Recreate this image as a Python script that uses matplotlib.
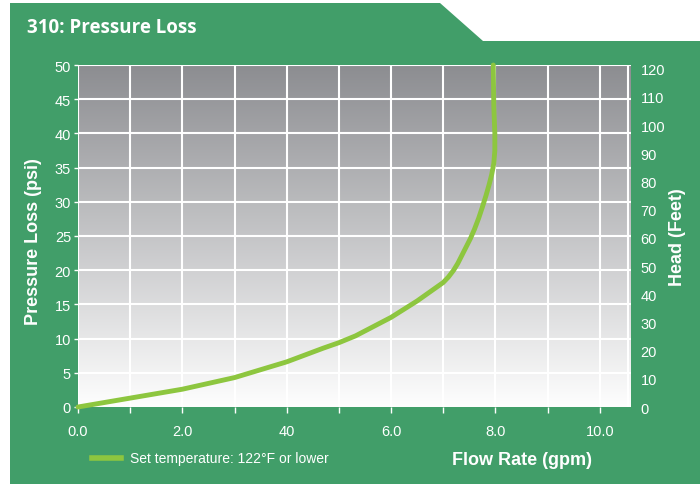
import matplotlib.pyplot as plt
import numpy as np
from matplotlib.patches import Polygon
from matplotlib.colors import LinearSegmentedColormap

# flow rate (gpm) vs pressure loss (psi)
flow = [0.0, 1.0, 2.0, 3.0, 4.0, 4.7, 5.0, 5.32, 6.0, 6.5, 7.0, 7.1, 7.2, 7.28, 7.36, 7.44,
        7.52, 7.6, 7.68, 7.75, 7.82, 7.88, 7.93, 7.97, 7.99, 7.99, 7.97, 7.96]
psi = [0.0, 1.3, 2.6, 4.3, 6.6, 8.6, 9.4, 10.4, 13.1, 15.5, 18.2, 19.0, 20.0, 21.0, 22.2, 23.4,
       24.6, 26.0, 27.6, 29.2, 30.9, 32.5, 34.0, 35.6, 37.5, 40.0, 44.0, 50.0]

x_ticks = [0, 2, 4, 6, 8, 10]
x_labels = ['0.0', '2.0', '40', '6.0', '8.0', '10.0']
psi_ticks = list(range(0, 55, 5))
feet_ticks = list(range(0, 130, 10))

green = '#419e69'
lime = '#8dc63f'

plt.rcParams['font.family'] = ['Liberation Sans', 'DejaVu Sans']

fig = plt.figure(figsize=(7, 4.85), dpi=100)
fig.patch.set_facecolor('white')

# green panel with notch top right (figure pixel coords)
W, H = 700, 485
pts = [(10, 4), (440, 4), (483, 42), (700, 42), (700, 485), (10, 485)]
fig.patches.append(Polygon([(px / W, 1 - py / H) for px, py in pts], closed=True,
                           transform=fig.transFigure, facecolor=green, edgecolor='none', zorder=-10))

fig.text(27 / W, 1 - 28 / H, '310: Pressure Loss', color='white', fontsize=13.5,
         fontweight='bold', family=['Open Sans', 'DejaVu Sans'], va='center', ha='left')

ax = fig.add_axes([78 / W, 1 - 408 / H, (631 - 78) / W, (408 - 66) / H])
ax.set_xlim(0, 10.6)
ax.set_ylim(0, 50)

# vertical gradient background
grad = np.linspace(0, 1, 1000).reshape(-1, 1)
cmap = LinearSegmentedColormap.from_list('bg', ['#fefefe', '#8c8d91'], N=1024)
ax.imshow(grad, extent=[0, 10.6, 0, 50], origin='lower', aspect='auto', cmap=cmap,
          interpolation='bilinear', zorder=0)

for v in [0] + list(range(1, 11)) + [10.55]:
    ax.axvline(v, color='white', lw=1.5, zorder=1)
for v in psi_ticks[1:]:
    ax.axhline(v, color='white', lw=1.5, zorder=1)

ax.plot(flow, psi, color=lime, lw=3.5, solid_capstyle='round', solid_joinstyle='round',
        zorder=3, clip_on=False)

for s in ax.spines.values():
    s.set_visible(False)

ax.set_xticks(range(0, 11))
ax.set_xticklabels([x_labels[x_ticks.index(i)] if i in x_ticks else '' for i in range(0, 11)])
ax.set_yticks(psi_ticks)
ax.tick_params(colors='white', labelsize=10.5, length=4, width=1)
ax.tick_params(axis='x', pad=8)
ax.tick_params(axis='y', length=3, pad=2)

ax2 = ax.twinx()
ax2.set_ylim(0, 121.3)
ax2.set_yticks(feet_ticks)
for s in ax2.spines.values():
    s.set_visible(False)
ax2.tick_params(colors='white', labelsize=10.5, length=0, pad=7)

fig.text(34 / W, 1 - 242 / H, 'Pressure Loss (psi)', rotation=90, color='white',
         fontsize=13, fontweight='bold', ha='center', va='center')
fig.text(677 / W, 1 - 237 / H, 'Head (Feet)', rotation=90, color='white',
         fontsize=13, fontweight='bold', ha='center', va='center')
fig.text(522 / W, 1 - 461 / H, 'Flow Rate (gpm)', color='white',
         fontsize=13, fontweight='bold', ha='center', va='center')

fig.lines.append(plt.Line2D([92 / W, 121 / W], [1 - 459 / H, 1 - 459 / H],
                            transform=fig.transFigure, color=lime, lw=4))
fig.text(130 / W, 1 - 459 / H, 'Set temperature: 122\u00b0F or lower', color='white',
         fontsize=10, ha='left', va='center')

fig.savefig('out.png', dpi=100, facecolor=fig.get_facecolor())
